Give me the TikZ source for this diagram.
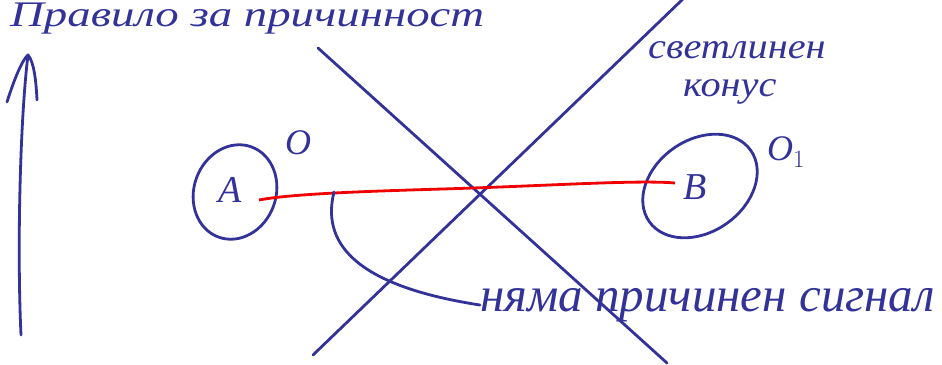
\documentclass[tikz,border=0pt]{standalone}
\usepackage{fontspec}
\setmainfont{Liberation Serif}
\usetikzlibrary{arrows.meta}
\definecolor{ink}{RGB}{50,50,152}
\definecolor{redink}{RGB}{240,0,0}
\tikzset{
  inkline/.style={draw=ink, line width=2.8pt, line cap=round, line join=round},
  hand/.style={text=ink, font=\itshape\fontsize{36}{40}\selectfont, inner sep=0pt},
  handbig/.style={text=ink, font=\itshape\fontsize{49}{52}\selectfont, inner sep=0pt},
  handtitle/.style={text=ink, font=\itshape\fontsize{36}{40}\selectfont, inner sep=0pt},
  letter/.style={text=ink, font=\itshape\fontsize{38}{42}\selectfont, inner sep=1pt},
}
\begin{document}
\begin{tikzpicture}[x=1pt,y=-1pt]
\useasboundingbox (0,0) rectangle (942,364);
% title
\node[handtitle, anchor=base west, text height=24pt, text depth=8pt] (title) at (10,27) {\scalebox{1.3}[1]{Правило за причинност}};
% time arrow
\coordinate (tb) at (21,335);
\coordinate (tt) at (28,55);
\draw[inkline] (tb) .. controls (17,250) and (20,120) .. (tt);
\draw[inkline] (7,102) .. controls (14,80) and (22,60) .. (tt) .. controls (34,62) and (36,80) .. (37,100);
% light cone
\coordinate (c1a) at (318,48);
\coordinate (c1b) at (667,363);
\coordinate (c2a) at (313,355);
\coordinate (c2b) at (684,-2);
\draw[inkline] (c1a) -- (c1b);
\draw[inkline] (c2a) -- (c2b);
% events
\node[letter] (A) at (230,190) {A};
\node[letter] (B) at (695,187) {B};
\node[letter, font=\itshape\fontsize{36}{40}\selectfont] (O) at (298,143) {O};
\node[letter, font=\itshape\fontsize{36}{40}\selectfont] (O1) at (786,152) {O$_1$};
\draw[inkline, rotate around={70:(235,192)}] (235,192) ellipse [x radius=48pt, y radius=41pt];
\draw[inkline, rotate around={35:(700,186)}] (700,186) ellipse [x radius=62pt, y radius=46pt];
% red signal
\draw[draw=redink, line width=2.8pt] (259,200) .. controls (300,192) and (420,190) .. (473,188) .. controls (560,185) and (640,180) .. (675,183);
% labels
\node[hand, anchor=base west, text height=18pt, text depth=0pt] (lc) at (648,58) {\scalebox{1.12}[1]{светлинен}};
\node[hand, anchor=base west, text height=18pt, text depth=8pt] (lc2) at (683,96) {\scalebox{1.12}[1]{конус}};
\node[handbig, anchor=west] (ns) at (480,305) {няма причинен сигнал};
\coordinate (p) at (334,192);
\draw[inkline] (p) .. controls (322,240) and (350,285) .. (ns.west);
\end{tikzpicture}
\end{document}
